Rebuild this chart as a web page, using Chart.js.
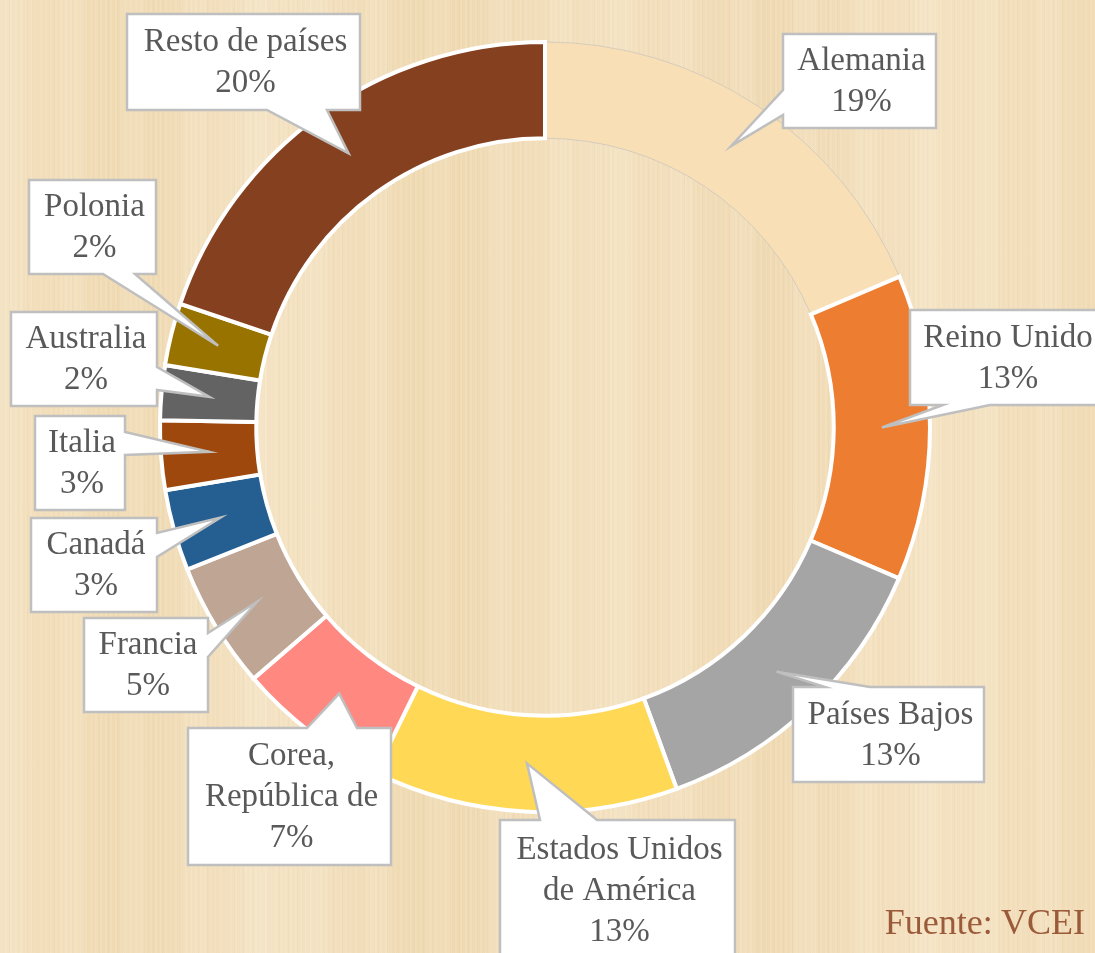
<!DOCTYPE html>
<html>
<head>
<meta charset="utf-8">
<script src="https://cdn.jsdelivr.net/npm/chart.js@4"></script>
<style>
  html, body { margin: 0; padding: 0; }
  body {
    width: 1095px; height: 953px; overflow: hidden; position: relative;
    background-color: #F1DDB8;
    background-image:
      repeating-linear-gradient(90deg, rgba(255,255,255,0.10) 0px, rgba(255,255,255,0.10) 2px, rgba(0,0,0,0) 2px, rgba(0,0,0,0) 5px),
      repeating-linear-gradient(90deg, rgba(170,130,70,0.04) 0px, rgba(170,130,70,0.04) 1px, rgba(0,0,0,0) 1px, rgba(0,0,0,0) 9px),
      repeating-linear-gradient(90deg, rgba(255,248,230,0.12) 0px, rgba(255,248,230,0.12) 23px, rgba(0,0,0,0) 23px, rgba(0,0,0,0) 61px),
      linear-gradient(90deg, #F3E0BE 0%, #EFD9B1 12%, #F4E2C2 25%, #EED8AF 40%, #F3E0BE 55%, #EFD9B2 70%, #F4E1C0 85%, #F0DBB5 100%);
  }
  #wrap { position: absolute; left: 0; top: 0; width: 1095px; height: 953px; }
  #src {
    position: absolute; right: 10px; top: 904px;
    font-family: "Liberation Serif", serif; font-size: 36px; color: #9B5A3A;
    line-height: 1; white-space: nowrap;
  }
</style>
</head>
<body>
<div id="wrap"><canvas id="c"></canvas></div>
<div id="src">Fuente: VCEI</div>
<script>
// ---- data ----
const categories = ['Alemania', 'Reino Unido', 'Países Bajos', 'Estados Unidos de América', 'Corea, República de', 'Francia', 'Canadá', 'Italia', 'Australia', 'Polonia', 'Resto de países'];
const labelLines = [['Alemania'], ['Reino Unido'], ['Países Bajos'], ['Estados Unidos', 'de América'], ['Corea,', 'República de'], ['Francia'], ['Canadá'], ['Italia'], ['Australia'], ['Polonia'], ['Resto de países']];
const shares = [18.6, 12.8, 13.0, 12.8, 6.4, 5.3, 3.4, 2.9, 2.3, 2.6, 19.8];
const shareLabels = ['19%', '13%', '13%', '13%', '7%', '5%', '3%', '3%', '2%', '2%', '20%'];

// ---- styles ----
const sliceColors = ['#F9DFB6', '#ED7D31', '#A5A5A5', '#FFD955', '#FF8881', '#BFA594', '#255E91', '#9E480E', '#636363', '#997300', '#85401F'];
const sliceBorderColors = ['rgba(190,190,190,0.6)', '#FFFFFF', '#FFFFFF', '#FFFFFF', '#FFFFFF', '#FFFFFF', '#FFFFFF', '#FFFFFF', '#FFFFFF', '#FFFFFF', '#FFFFFF'];
const sliceBorderWidths = [1, 4, 4, 4, 4, 4, 4, 4, 4, 4, 4];

// ---- callout box layout (x, y, w, h, pointer side, pointer base range) ----
const calloutLayout = [
  {x: 783, y: 34,  w: 153, h: 94,  side: 'left',   b0: 90,  b1: 115},
  {x: 910, y: 310, w: 192, h: 95,  side: 'bottom', b0: 943, b1: 990},
  {x: 793, y: 687, w: 191, h: 95,  side: 'top',    b0: 825, b1: 870},
  {x: 500, y: 820, w: 235, h: 140, side: 'top',    b0: 540, b1: 597},
  {x: 188, y: 728, w: 203, h: 137, side: 'top',    b0: 307, b1: 357},
  {x: 84,  y: 618, w: 124, h: 94,  side: 'right',  b0: 633, b1: 657},
  {x: 31,  y: 518, w: 126, h: 94,  side: 'right',  b0: 533, b1: 557},
  {x: 35,  y: 416, w: 90,  h: 94,  side: 'right',  b0: 432, b1: 455},
  {x: 11,  y: 312, w: 146, h: 94,  side: 'right',  b0: 367, b1: 390},
  {x: 29,  y: 180, w: 127, h: 94,  side: 'bottom', b0: 103, b1: 135},
  {x: 127, y: 14,  w: 233, h: 96,  side: 'bottom', b0: 267, b1: 327}
];

const calloutPlugin = {
  id: 'callouts',
  afterDatasetsDraw(chart) {
    const ctx = chart.ctx;
    const meta = chart.getDatasetMeta(0);
    ctx.save();
    meta.data.forEach((arc, i) => {
      const L = calloutLayout[i];
      const tip = arc.getCenterPoint();
      const x0 = L.x, y0 = L.y, x1 = L.x + L.w, y1 = L.y + L.h;
      ctx.beginPath();
      ctx.moveTo(x0, y0);
      if (L.side === 'top') { ctx.lineTo(L.b0, y0); ctx.lineTo(tip.x, tip.y); ctx.lineTo(L.b1, y0); }
      ctx.lineTo(x1, y0);
      if (L.side === 'right') { ctx.lineTo(x1, L.b0); ctx.lineTo(tip.x, tip.y); ctx.lineTo(x1, L.b1); }
      ctx.lineTo(x1, y1);
      if (L.side === 'bottom') { ctx.lineTo(L.b1, y1); ctx.lineTo(tip.x, tip.y); ctx.lineTo(L.b0, y1); }
      ctx.lineTo(x0, y1);
      if (L.side === 'left') { ctx.lineTo(x0, L.b1); ctx.lineTo(tip.x, tip.y); ctx.lineTo(x0, L.b0); }
      ctx.closePath();
      ctx.fillStyle = '#FFFFFF';
      ctx.fill();
      ctx.lineWidth = 2.5;
      ctx.lineJoin = 'miter';
      ctx.strokeStyle = '#BFBFBF';
      ctx.stroke();

      const lines = labelLines[i].concat([shareLabels[i]]);
      const lh = 41;
      const cx = (x0 + x1) / 2 + 2, cy = (y0 + y1) / 2 + 1;
      ctx.fillStyle = '#595959';
      ctx.font = '33px "Liberation Serif", serif';
      ctx.textAlign = 'center';
      ctx.textBaseline = 'middle';
      lines.forEach((t, k) => {
        ctx.fillText(t, cx, cy + (k - (lines.length - 1) / 2) * lh);
      });
    });
    ctx.restore();
  }
};

new Chart(document.getElementById('c'), {
  type: 'doughnut',
  data: {
    labels: categories,
    datasets: [{
      data: shares,
      backgroundColor: sliceColors,
      borderColor: sliceBorderColors,
      borderWidth: sliceBorderWidths,
      borderJoinStyle: 'miter',
      hoverOffset: 0
    }]
  },
  options: {
    responsive: true,
    maintainAspectRatio: false,
    animation: false,
    radius: 385,
    cutout: '75%',
    rotation: 0,
    layout: { padding: { left: 0, right: 5, top: 0, bottom: 99 } },
    plugins: {
      legend: { display: false },
      tooltip: { enabled: false }
    }
  },
  plugins: [calloutPlugin]
});
</script>
</body>
</html>
